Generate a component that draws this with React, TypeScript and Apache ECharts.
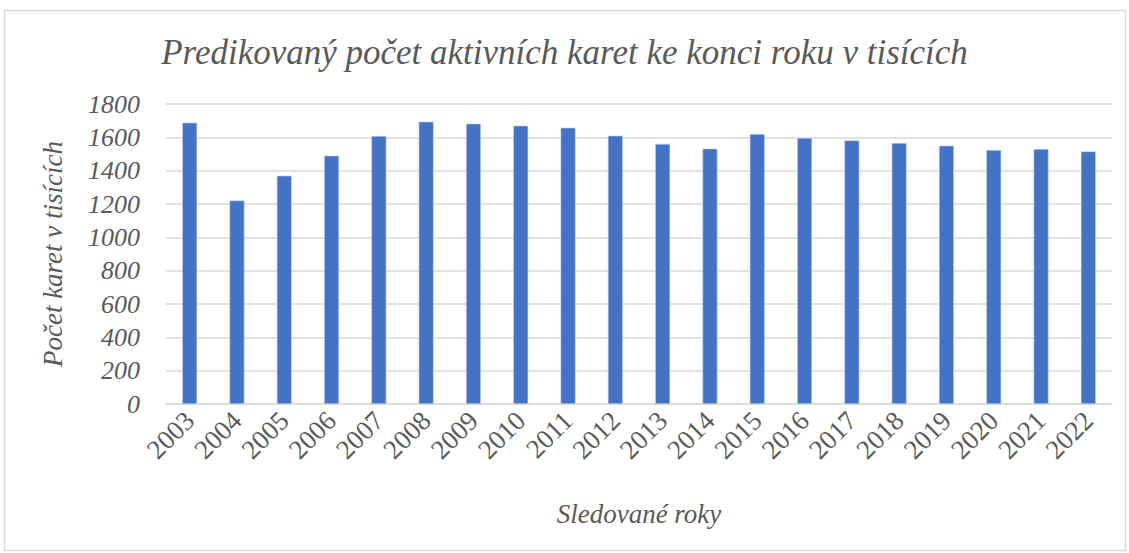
import React, { useEffect, useRef } from "react";
import * as echarts from "echarts";

const years = ["2003","2004","2005","2006","2007","2008","2009","2010","2011","2012","2013","2014","2015","2016","2017","2018","2019","2020","2021","2022"];
const cards = [1688,1221,1370,1490,1608,1694,1682,1670,1658,1610,1561,1532,1620,1596,1582,1566,1550,1524,1530,1516];
const yTicks = { min: 0, max: 1800, interval: 200 };

const FONT = "Liberation Serif";
const TEXT = "#595959";

export default function App() {
  const ref = useRef<HTMLDivElement>(null);
  useEffect(() => {
    document.body.style.margin = "0";
    const chart = echarts.init(ref.current!, null, { renderer: "svg" });
    chart.setOption({
      animation: false,
      backgroundColor: "#ffffff",
      title: {
        text: "Predikovaný počet aktivních karet ke konci roku v tisících",
        left: "center",
        top: 30,
        textStyle: { fontFamily: FONT, fontStyle: "italic", fontWeight: "normal", fontSize: 35, color: TEXT },
      },
      graphic: [
        {
          type: "rect",
          shape: { x: 4.5, y: 10.5, width: 1121, height: 540 },
          style: { fill: "none", stroke: "#d9d9d9", lineWidth: 1.5 },
          silent: true,
        },
      ],
      grid: { left: 166, right: 17, top: 104, bottom: 149 },
      xAxis: {
        type: "category",
        data: years,
        boundaryGap: true,
        name: "Sledované roky",
        nameLocation: "middle",
        nameGap: 96,
        nameTextStyle: { fontFamily: FONT, fontStyle: "italic", fontSize: 27, color: TEXT },
        axisLine: { lineStyle: { color: "#d9d9d9", width: 1.5 } },
        axisTick: { show: false },
        axisLabel: { rotate: 45, fontFamily: FONT, fontSize: 27, color: TEXT, margin: 12, interval: 0 },
      },
      yAxis: {
        type: "value",
        min: yTicks.min,
        max: yTicks.max,
        interval: yTicks.interval,
        name: "Počet karet v tisících",
        nameLocation: "middle",
        nameGap: 100,
        nameTextStyle: { fontFamily: FONT, fontStyle: "italic", fontSize: 27, color: TEXT },
        axisLine: { show: false },
        axisTick: { show: false },
        splitLine: { lineStyle: { color: "#d9d9d9", width: 1.5 } },
        axisLabel: {
          fontFamily: FONT, fontStyle: "italic", fontSize: 26, color: TEXT, margin: 26,
          formatter: (v: number) => String(v),
        },
      },
      series: [
        {
          type: "bar",
          data: cards,
          barWidth: 15,
          itemStyle: { color: "#4472C4", borderColor: "#c9d6ee", borderWidth: 0.6 },
        },
      ],
    });
    return () => chart.dispose();
  }, []);
  return <div ref={ref} style={{ width: 1129, height: 553 }} />;
}
